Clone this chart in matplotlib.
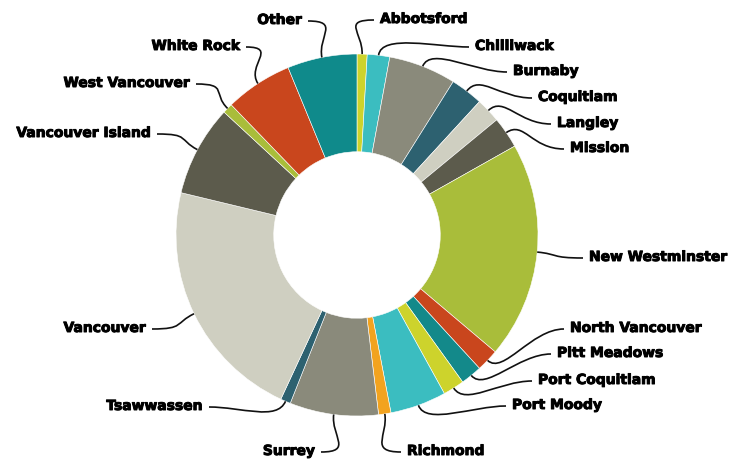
import numpy as np
import matplotlib.pyplot as plt
import matplotlib.patheffects as pe
from matplotlib.path import Path
from matplotlib.patches import PathPatch

# share of respondents by city (percent), clockwise from 12 o'clock
cities = ["Abbotsford", "Chilliwack", "Burnaby", "Coquitlam", "Langley", "Mission",
          "New Westminster", "North Vancouver", "Pitt Meadows", "Port Coquitlam",
          "Port Moody", "Richmond", "Surrey", "Tsawwassen", "Vancouver",
          "Vancouver Island", "West Vancouver", "White Rock", "Other"]
shares = [0.9, 2.0, 6.0, 2.9, 2.2, 2.8, 19.3, 2.0, 1.9, 1.9,
          5.0, 1.1, 7.9, 0.9, 21.8, 8.1, 0.9, 6.0, 6.2]
colors = ["#cdd32c", "#3bbdc0", "#8a8a7b", "#2d6170", "#cfcfc1", "#5c5b4c",
          "#a9bd3a", "#c9461d", "#13898a", "#cdd32c", "#3bbdc0", "#f2a31f",
          "#8a8a7b", "#2d6170", "#cfcfc1", "#5c5b4c", "#a9bd3a", "#c9461d", "#0f8a8b"]

# label anchors in pixels (x edge, y centre) and which side the text sits
label_px = [(380, 19, "l"), (475, 46, "l"), (513, 71, "l"), (538, 97, "l"),
            (557, 123, "l"), (570, 148, "l"), (589, 257, "l"), (570, 328, "l"),
            (557, 353, "l"), (538, 380, "l"), (512, 405, "l"), (407, 451, "l"),
            (315, 451, "r"), (203, 406, "r"), (146, 328, "r"), (151, 133, "r"),
            (190, 83, "r"), (240, 46, "r"), (302, 20, "r")]

W, H = 743, 459
CX, CY, R = 357, 235, 181


def to_data(px, py):
    return (px - CX) / R, (CY - py) / R


fig = plt.figure(figsize=(W / 100, H / 100), dpi=100)
ax = fig.add_axes([0, 0, 1, 1])
wedges, _ = ax.pie(shares, colors=colors, startangle=90, counterclock=False,
                   radius=1, wedgeprops=dict(width=0.54, edgecolor="white", linewidth=0.4))
ax.set_xlim(-CX / R, (W - CX) / R)
ax.set_ylim((CY - H) / R, CY / R)
ax.set_aspect("auto")
ax.axis("off")

for w, name, (px, py, side) in zip(wedges, cities, label_px):
    mid = np.deg2rad((w.theta1 + w.theta2) / 2)
    ux, uy = np.cos(mid), np.sin(mid)
    p0 = (ux, uy)
    tx, ty = to_data(px, py)
    if side == "l":
        end = (tx - 6 / R, ty - 1 / R)
        c2 = (end[0] - 0.18, end[1])
        ha = "left"
    else:
        end = (tx + 6 / R, ty - 1 / R)
        c2 = (end[0] + 0.18, end[1])
        ha = "right"
    c1 = (ux * 1.12, uy * 1.12)
    path = Path([p0, c1, c2, end], [Path.MOVETO, Path.CURVE4, Path.CURVE4, Path.CURVE4])
    ax.add_patch(PathPatch(path, fc="none", ec="#111111", lw=1.2))
    ax.text(tx, ty, name, ha=ha, va="center", fontsize=10, fontweight="bold",
            family="DejaVu Sans", color="#000000",
            path_effects=[pe.withStroke(linewidth=0.7, foreground="#000000")])

fig.savefig("out.png", dpi=100)
